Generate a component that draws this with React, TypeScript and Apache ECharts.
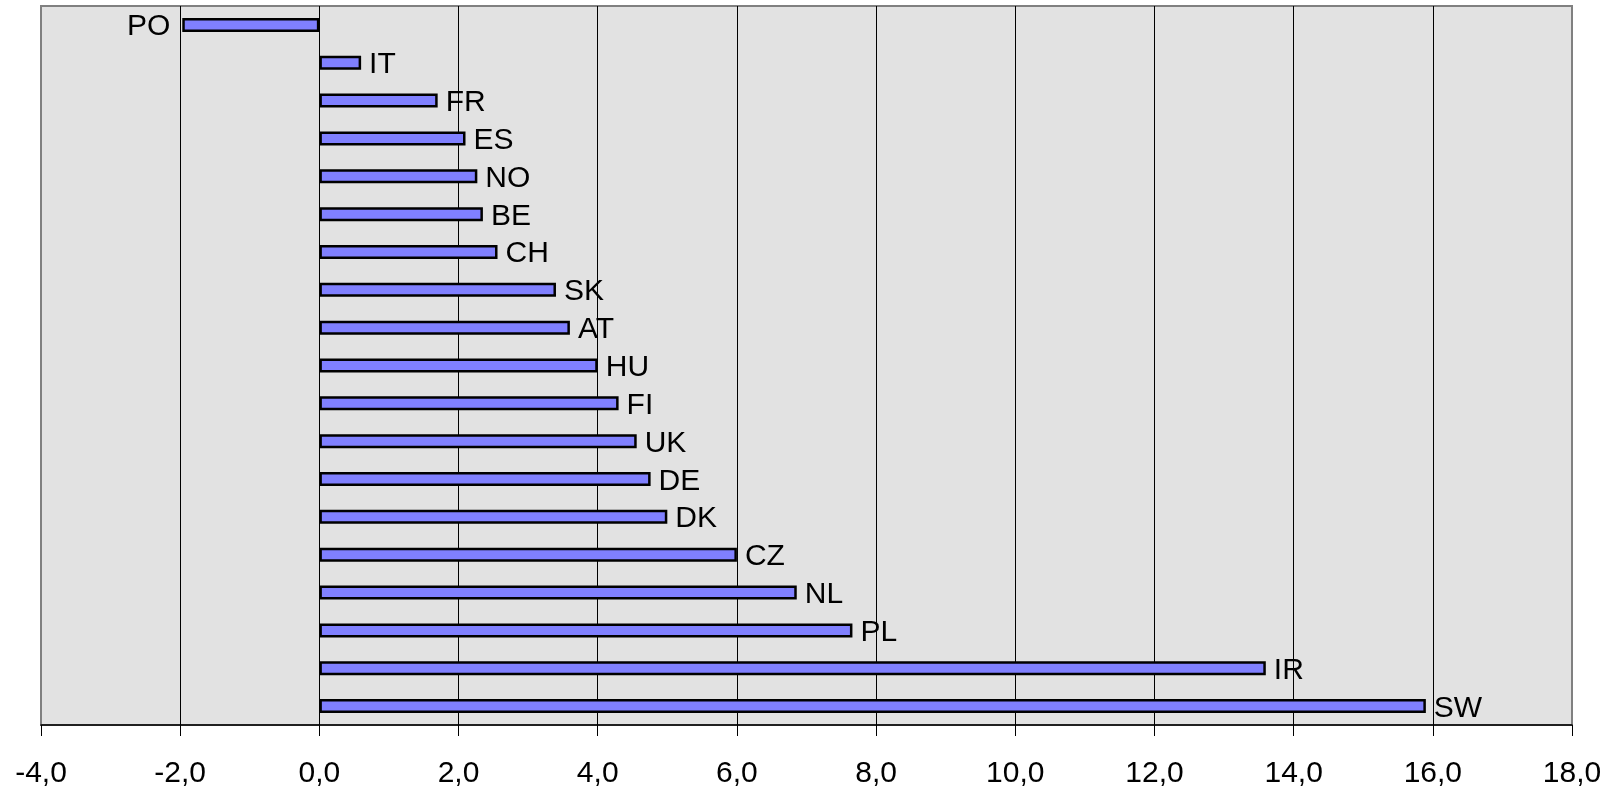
import React, { useEffect, useRef } from "react";
import * as echarts from "echarts";

const countries = ["PO", "IT", "FR", "ES", "NO", "BE", "CH", "SK", "AT", "HU", "FI", "UK", "DE", "DK", "CZ", "NL", "PL", "IR", "SW"];
const values = [-1.97, 0.6, 1.7, 2.1, 2.27, 2.35, 2.56, 3.4, 3.6, 4.0, 4.3, 4.56, 4.76, 5.0, 6.0, 6.86, 7.66, 13.6, 15.9];
const xMin = -4;
const xMax = 18;
const xStep = 2;

export default function App() {
  const ref = useRef<HTMLDivElement>(null);
  useEffect(() => {
    if (!ref.current) return;
    const chart = echarts.init(ref.current, null, { renderer: "svg" });
    const data = values.map((v) => ({
      value: v,
      label: { position: v < 0 ? "left" : "right", distance: v < 0 ? 12 : 8 },
    }));
    chart.setOption({
      animation: false,
      grid: {
        left: 41,
        right: 37,
        top: 6,
        bottom: 66,
        show: true,
        backgroundColor: "#E2E2E2",
        borderColor: "#808080",
        borderWidth: 2,
      },
      xAxis: {
        type: "value",
        min: xMin,
        max: xMax,
        interval: xStep,
        axisLine: { show: true, onZero: false, lineStyle: { color: "#000", width: 1.5 } },
        axisTick: { show: true, length: 11, lineStyle: { color: "#000", width: 1 } },
        axisLabel: {
          color: "#000",
          fontSize: 30,
          fontFamily: "'Liberation Sans Narrow', 'Arial Narrow', 'Liberation Sans', Arial, sans-serif",
          margin: 31,
          formatter: (v: number) => v.toFixed(1).replace(".", ","),
        },
        splitLine: {
          show: true,
          showMinLine: false,
          showMaxLine: false,
          lineStyle: { color: "#000", width: 1 },
        },
      },
      yAxis: {
        type: "category",
        data: countries,
        inverse: true,
        axisLine: { show: false },
        axisTick: { show: false },
        axisLabel: { show: false },
        splitLine: { show: false },
      },
      series: [
        {
          type: "bar",
          data,
          barWidth: 14,
          itemStyle: { color: "#8080FF", borderColor: "#000", borderWidth: 2.5 },
          label: {
            show: true,
            formatter: (p: any) => countries[p.dataIndex],
            color: "#000",
            fontSize: 30,
            fontFamily: "'Liberation Sans', Arial, sans-serif",
          },
        },
      ],
    });
    return () => chart.dispose();
  }, []);
  return <div ref={ref} style={{ position: "fixed", left: 0, top: 0, width: 1609, height: 791 }} />;
}
